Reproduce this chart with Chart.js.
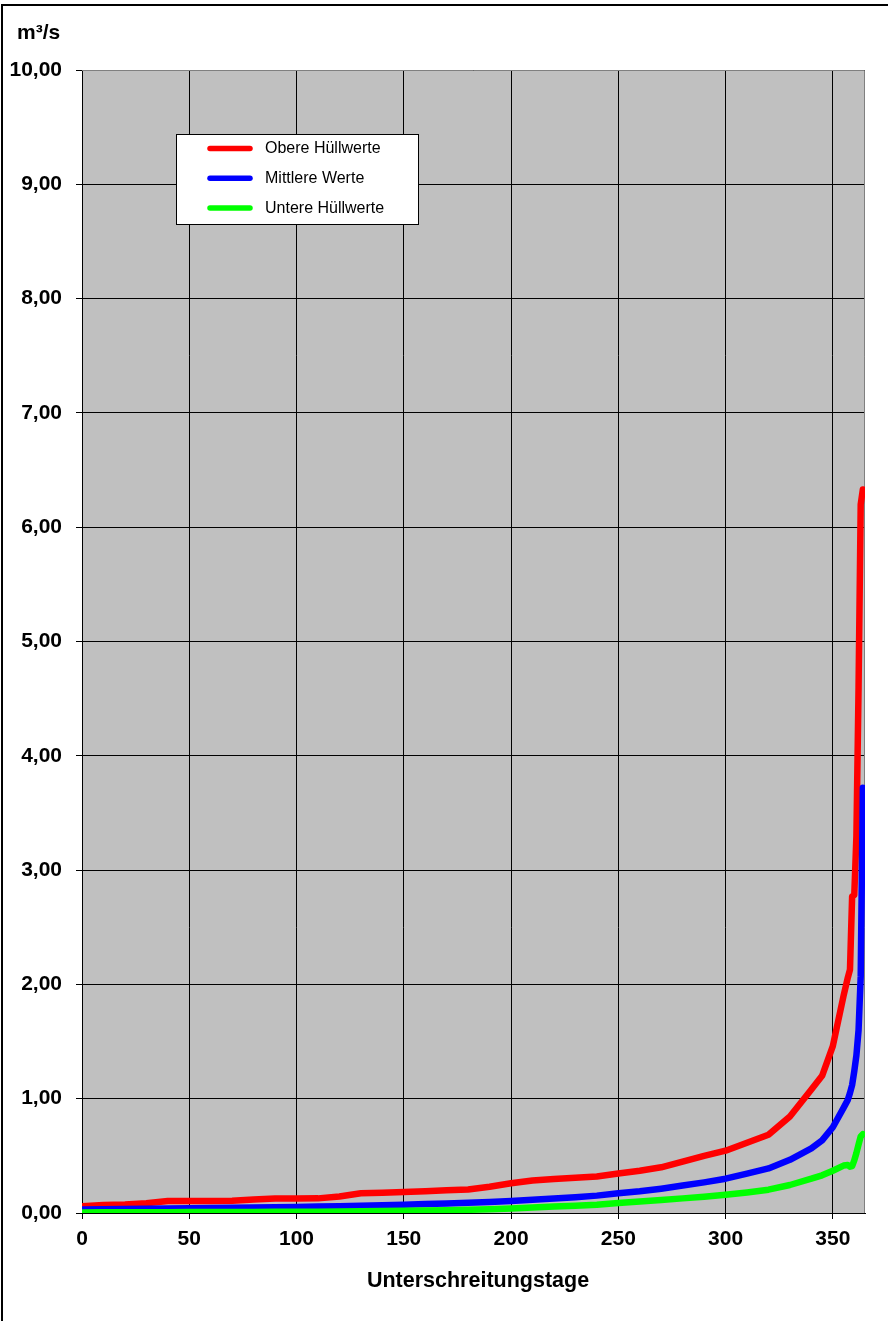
<!DOCTYPE html>
<html>
<head>
<meta charset="utf-8">
<script src="https://cdn.jsdelivr.net/npm/chart.js@4/dist/chart.umd.min.js"></script>
<style>
  html, body { margin: 0; padding: 0; background: #fff; }
  canvas { display: block; }
</style>
</head>
<body>
<canvas id="dauerlinie" width="888" height="1321"></canvas>
<script>
// Unterschreitungstage (days of the year)
const days = [0, 10, 20, 30, 40, 50, 60, 70, 80, 90, 100, 110, 120, 130, 140, 150, 160, 170, 180, 190,
  200, 210, 220, 230, 240, 250, 260, 270, 280, 290, 300, 310, 320, 330, 340, 345, 350, 355, 357, 358,
  359, 360, 361, 362, 363, 364];

// Abfluss in m³/s
const obereHuellwerte = [0.06, 0.07, 0.075, 0.085, 0.105, 0.105, 0.105, 0.107, 0.118, 0.127, 0.127, 0.128,
  0.145, 0.172, 0.178, 0.183, 0.19, 0.198, 0.205, 0.23, 0.26, 0.285, 0.298, 0.308, 0.32, 0.345, 0.37, 0.40,
  0.45, 0.50, 0.545, 0.615, 0.685, 0.845, 1.08, 1.20, 1.46, 1.90, 2.06, 2.13, 2.77, 2.78, 3.30, 4.60, 6.20, 6.33];

const mittlereWerte = [0.03, 0.033, 0.035, 0.037, 0.04, 0.042, 0.044, 0.046, 0.048, 0.05, 0.053, 0.057,
  0.06, 0.064, 0.068, 0.073, 0.078, 0.083, 0.09, 0.096, 0.105, 0.115, 0.126, 0.138, 0.152, 0.172, 0.19, 0.213,
  0.24, 0.268, 0.30, 0.345, 0.39, 0.465, 0.565, 0.635, 0.75, 0.92, 0.99, 1.05, 1.12, 1.24, 1.38, 1.60, 2.07, 3.72];

const untereHuellwerte = [0.005, 0.006, 0.006, 0.007, 0.007, 0.008, 0.008, 0.009, 0.009, 0.01, 0.011, 0.012,
  0.013, 0.015, 0.017, 0.019, 0.022, 0.025, 0.028, 0.032, 0.04, 0.048, 0.056, 0.064, 0.073, 0.087, 0.10, 0.113,
  0.128, 0.143, 0.16, 0.18, 0.204, 0.245, 0.30, 0.33, 0.37, 0.415, 0.42, 0.405, 0.41, 0.46, 0.525, 0.60, 0.67, 0.69];

const seriesNames = ['Obere Hüllwerte', 'Mittlere Werte', 'Untere Hüllwerte'];
const seriesColors = ['#ff0000', '#0000ff', '#00ff00'];
const unitLabel = 'm³/s';
const xAxisTitle = 'Unterschreitungstage';
const xRange = [0, 365];
const xStep = 50;
const yRange = [0, 10];
const yStep = 1;

const FONT = "'Liberation Sans', Arial, Helvetica, sans-serif";

const toPoints = (values) => values.map((v, i) => ({ x: days[i], y: v }));
const series = [obereHuellwerte, mittlereWerte, untereHuellwerte];

// Page background, grey plot area and the grey top/right plot border
const plotFrame = {
  id: 'plotFrame',
  beforeDraw(chart) {
    const { ctx, chartArea: a } = chart;
    ctx.save();
    ctx.fillStyle = '#ffffff';
    ctx.fillRect(0, 0, chart.width, chart.height);
    ctx.fillStyle = '#c0c0c0';
    ctx.fillRect(a.left, a.top, a.right - a.left, a.bottom - a.top);
    ctx.restore();
  },
  beforeDatasetsDraw(chart) {
    const { ctx, chartArea: a } = chart;
    ctx.save();
    ctx.strokeStyle = '#808080';
    ctx.lineWidth = 1;
    ctx.beginPath();
    ctx.moveTo(a.left, a.top + 0.5);
    ctx.lineTo(a.right - 0.5, a.top + 0.5);
    ctx.lineTo(a.right - 0.5, a.bottom);
    ctx.stroke();
    ctx.restore();
  },
  afterDraw(chart) {
    const { ctx } = chart;
    ctx.save();
    // outer frame (top and left edges)
    ctx.fillStyle = '#000';
    ctx.fillRect(1, 4, chart.width - 1, 2);
    ctx.fillRect(1, 4, 2, chart.height - 4);

    // unit label above the value axis
    ctx.font = 'bold 21px ' + FONT;
    ctx.textAlign = 'left';
    ctx.textBaseline = 'alphabetic';
    ctx.fillText(unitLabel, 17, 39);

    // axis title below the day axis
    ctx.font = 'bold 21.5px ' + FONT;
    ctx.textAlign = 'center';
    ctx.fillText(xAxisTitle, 478, 1287);

    // legend box
    const box = { x: 176.5, y: 134.5, w: 242, h: 90 };
    ctx.fillStyle = '#fff';
    ctx.fillRect(box.x, box.y, box.w, box.h);
    ctx.strokeStyle = '#000';
    ctx.lineWidth = 1;
    ctx.strokeRect(box.x, box.y, box.w, box.h);
    ctx.font = '16px ' + FONT;
    ctx.textAlign = 'left';
    ctx.textBaseline = 'middle';
    chart.data.datasets.forEach((ds, i) => {
      const y = 148.5 + i * 29.7;
      ctx.strokeStyle = ds.borderColor;
      ctx.lineWidth = 5.5;
      ctx.lineCap = 'round';
      ctx.beginPath();
      ctx.moveTo(210, y);
      ctx.lineTo(250, y);
      ctx.stroke();
      ctx.fillStyle = '#000';
      ctx.fillText(ds.label, 265, y + 0.5);
    });
    ctx.restore();
  }
};

new Chart(document.getElementById('dauerlinie'), {
  type: 'line',
  data: {
    datasets: series.map((values, i) => ({
      label: seriesNames[i],
      data: toPoints(values),
      borderColor: seriesColors[i],
      backgroundColor: seriesColors[i],
      borderWidth: 6.5,
      borderCapStyle: 'round',
      borderJoinStyle: 'round',
      pointRadius: 0,
      pointHoverRadius: 0,
      tension: 0,
      fill: false,
      order: 3 - i
    }))
  },
  options: {
    responsive: false,
    animation: false,
    events: [],
    layout: { padding: { left: 0, top: 70, right: 23, bottom: 0 } },
    plugins: {
      legend: { display: false },
      tooltip: { enabled: false },
      title: { display: false }
    },
    scales: {
      x: {
        type: 'linear',
        min: xRange[0],
        max: xRange[1],
        afterFit(scale) { scale.height = 108; },
        ticks: {
          stepSize: xStep,
          includeBounds: false,
          color: '#000',
          padding: 8,
          maxRotation: 0,
          autoSkip: false,
          font: { family: FONT, size: 21, weight: 'bold' },
          callback: (v) => String(v)
        },
        grid: { color: '#000', lineWidth: 1, tickLength: 6, tickColor: '#000', drawTicks: true },
        border: { color: '#000', width: 1 }
      },
      y: {
        type: 'linear',
        min: yRange[0],
        max: yRange[1],
        afterFit(scale) { scale.width = 82; },
        ticks: {
          stepSize: yStep,
          color: '#000',
          padding: 14,
          font: { family: FONT, size: 21, weight: 'bold' },
          callback: (v) => v.toFixed(2).replace('.', ',')
        },
        grid: { color: '#000', lineWidth: 1, tickLength: 6, tickColor: '#000', drawTicks: true },
        border: { color: '#000', width: 1 }
      }
    }
  },
  plugins: [plotFrame]
});
</script>
</body>
</html>
